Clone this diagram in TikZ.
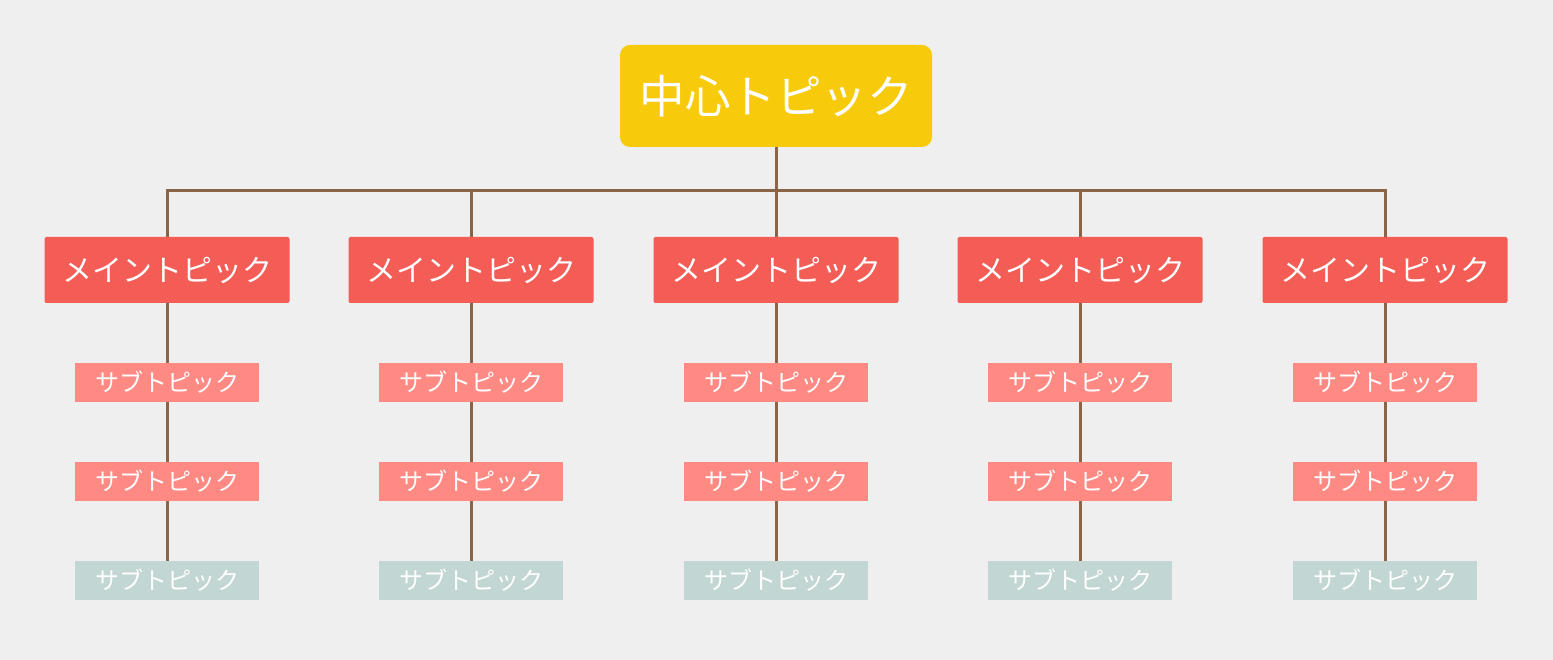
\documentclass[tikz,border=0pt]{standalone}
\usepackage{fontspec}
\setmainfont{Noto Sans CJK JP}
\usetikzlibrary{calc}
\usetikzlibrary{positioning}
\definecolor{bgcol}{HTML}{EFEFEF}
\definecolor{topicyellow}{HTML}{F7CB0C}
\definecolor{mainred}{HTML}{F45D56}
\definecolor{subpink}{HTML}{FF8A84}
\definecolor{subgrey}{HTML}{C2D6D3}
\definecolor{linebrown}{HTML}{8B6347}

\begin{document}
\begin{tikzpicture}[x=1pt,y=1pt,line width=3pt,draw=linebrown,
	  every node/.style={outer sep=0pt},
	  center node/.style={rectangle,rounded corners=10pt,fill=topicyellow,text=white,inner sep=0pt,
	    minimum width=312pt,minimum height=102pt,font=\fontsize{45.5}{50}\selectfont},
	  main node/.style={rectangle,rounded corners=2pt,fill=mainred,text=white,inner sep=0pt,
	    minimum width=245pt,minimum height=66pt,font=\fontsize{30}{34}\selectfont},
	  sub node/.style={rectangle,fill=subpink,text=white,inner sep=0pt,
	    minimum width=184pt,minimum height=39pt,font=\fontsize{24}{28}\selectfont},
	  last node/.style={sub node,fill=subgrey}]

	 \fill[bgcol] (0,0) rectangle (1553,660);
	 \useasboundingbox (0,0) rectangle (1553,660);

	 \node[center node] (ctr) at (776,564) {中心トピック\hspace{8pt}};
	 \coordinate (bus) at ($ (ctr.south) + (0,-44) $);

	 \node[main node] (m1) at ($ (ctr) + (-609,-174) $) {メイントピック};
	 \node[main node] (m2) at ($ (ctr) + (-305,-174) $) {メイントピック};
	 \node[main node] (m3) at ($ (ctr) + (0,-174) $) {メイントピック};
	 \node[main node] (m4) at ($ (ctr) + (304,-174) $) {メイントピック};
	 \node[main node] (m5) at ($ (ctr) + (609,-174) $) {メイントピック};

	 \node[sub node] (s11) at ($ (m1) + (0,-112.5) $) {サブトピック};
	 \node[sub node] (s12) at ($ (s11) + (0,-99) $) {サブトピック};
	 \node[last node] (s13) at ($ (s12) + (0,-99) $) {サブトピック};
	 \node[sub node] (s21) at ($ (m2) + (0,-112.5) $) {サブトピック};
	 \node[sub node] (s22) at ($ (s21) + (0,-99) $) {サブトピック};
	 \node[last node] (s23) at ($ (s22) + (0,-99) $) {サブトピック};
	 \node[sub node] (s31) at ($ (m3) + (0,-112.5) $) {サブトピック};
	 \node[sub node] (s32) at ($ (s31) + (0,-99) $) {サブトピック};
	 \node[last node] (s33) at ($ (s32) + (0,-99) $) {サブトピック};
	 \node[sub node] (s41) at ($ (m4) + (0,-112.5) $) {サブトピック};
	 \node[sub node] (s42) at ($ (s41) + (0,-99) $) {サブトピック};
	 \node[last node] (s43) at ($ (s42) + (0,-99) $) {サブトピック};
	 \node[sub node] (s51) at ($ (m5) + (0,-112.5) $) {サブトピック};
	 \node[sub node] (s52) at ($ (s51) + (0,-99) $) {サブトピック};
	 \node[last node] (s53) at ($ (s52) + (0,-99) $) {サブトピック};

	 \draw (ctr.south) -- (bus);
	 \draw (bus) -| (m1.north);
	 \draw (bus) -| (m2.north);
	 \draw (bus) -- (m3.north);
	 \draw (bus) -| (m4.north);
	 \draw (bus) -| (m5.north);
	 \path[draw]
	    (m1) -- (s11) (s11) -- (s12) (s12) -- (s13)
	    (m2) -- (s21) (s21) -- (s22) (s22) -- (s23)
	    (m3) -- (s31) (s31) -- (s32) (s32) -- (s33)
	    (m4) -- (s41) (s41) -- (s42) (s42) -- (s43)
	    (m5) -- (s51) (s51) -- (s52) (s52) -- (s53)
;
	\end{tikzpicture}
\end{document}
